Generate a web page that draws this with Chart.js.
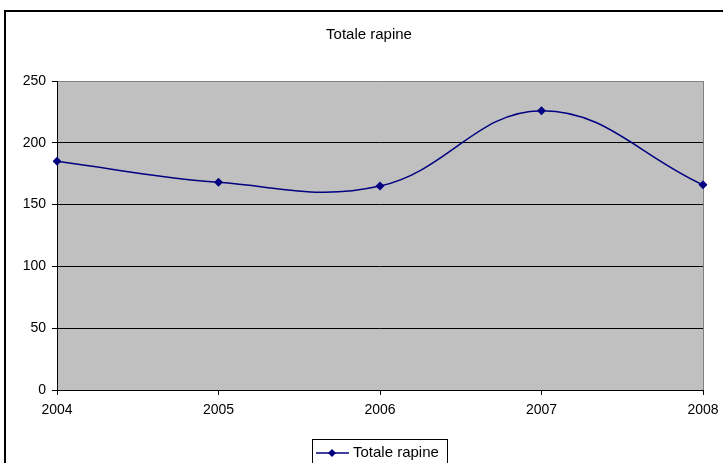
<!DOCTYPE html>
<html lang="it">
<head>
    <meta charset="UTF-8">
    <title>Totale rapine</title>
    <style>
        html, body { margin: 0; padding: 0; background: #fff; }
        #wrap { width: 723px; height: 463px; }
    </style>
    <script src="https://cdn.jsdelivr.net/npm/chart.js@4/dist/chart.umd.min.js"></script>
</head>
<body>
    <div id="wrap"><canvas id="chart" width="723" height="463"></canvas></div>

    <script>
        // dati
        const anni = ['2004', '2005', '2006', '2007', '2008'];
        const rapine = [185, 168, 165, 226, 166];
        const titolo = 'Totale rapine';
        const FONT = '"Liberation Sans", Arial, sans-serif';
        const NAVY = '#000080';

        function diamond(ctx, x, y, r) {
            ctx.beginPath();
            ctx.moveTo(x, y - r);
            ctx.lineTo(x + r, y);
            ctx.lineTo(x, y + r);
            ctx.lineTo(x - r, y);
            ctx.closePath();
            ctx.fill();
        }

        // sfondo grigio, cornice, titolo e legenda stile Excel
        const excelStyle = {
            id: 'excelStyle',
            beforeDraw(chart) {
                const { ctx, chartArea: a } = chart;
                ctx.save();
                ctx.fillStyle = '#fff';
                ctx.fillRect(0, 0, chart.width, chart.height);
                ctx.fillStyle = '#C0C0C0';
                ctx.fillRect(a.left, a.top, a.right - a.left, a.bottom - a.top);
                // bordo esterno
                ctx.strokeStyle = '#000';
                ctx.lineWidth = 2;
                ctx.strokeRect(5, 11, 740, 480);
                ctx.restore();
            },
            beforeDatasetsDraw(chart) {
                const { ctx, chartArea: a } = chart;
                ctx.save();
                ctx.strokeStyle = '#808080';
                ctx.lineWidth = 1;
                ctx.beginPath();
                ctx.moveTo(a.right + 0.5, a.top);
                ctx.lineTo(a.right + 0.5, a.bottom);
                ctx.stroke();
                ctx.restore();
            },
            afterDraw(chart) {
                const { ctx } = chart;
                ctx.save();
                ctx.fillStyle = '#000';
                ctx.font = '15px ' + FONT;
                ctx.textAlign = 'center';
                ctx.textBaseline = 'middle';
                ctx.fillText(titolo, 369, 35);

                // legenda
                ctx.strokeStyle = '#000';
                ctx.lineWidth = 1;
                ctx.strokeRect(312.5, 439.5, 135, 30);
                ctx.strokeStyle = NAVY;
                ctx.lineWidth = 1.5;
                ctx.beginPath();
                ctx.moveTo(316, 453);
                ctx.lineTo(349, 453);
                ctx.stroke();
                ctx.fillStyle = NAVY;
                diamond(ctx, 332, 453, 4);
                ctx.fillStyle = '#000';
                ctx.textAlign = 'left';
                ctx.fillText(titolo, 353, 453);
                ctx.restore();
            }
        };

        new Chart(document.getElementById('chart'), {
            type: 'line',
            data: {
                labels: anni,
                datasets: [{
                    label: titolo,
                    data: rapine,
                    borderColor: NAVY,
                    backgroundColor: NAVY,
                    borderWidth: 1.5,
                    tension: 0.4,
                    pointStyle: 'rectRot',
                    pointRadius: 4.5,
                    pointHoverRadius: 4.5,
                    pointBorderWidth: 0,
                    fill: false
                }]
            },
            options: {
                responsive: false,
                animation: false,
                layout: { padding: { top: 81, right: 20, bottom: 43, left: 0 } },
                plugins: {
                    legend: { display: false },
                    title: { display: false },
                    tooltip: { enabled: false }
                },
                scales: {
                    x: {
                        offset: false,
                        afterFit: s => { s.height = 30; s.paddingLeft = 0; s.paddingRight = 0; },
                        grid: { drawOnChartArea: false, drawTicks: true, tickLength: 5, tickColor: '#000' },
                        border: { color: '#000', width: 1 },
                        ticks: { color: '#000', font: { family: FONT, size: 14 }, padding: 7, maxRotation: 0 }
                    },
                    y: {
                        min: 0,
                        max: 250,
                        afterFit: s => { s.width = 57; s.paddingTop = 0; s.paddingBottom = 0; },
                        grid: {
                            color: c => (c.tick && c.tick.value === 250) ? '#808080' : '#000',
                            tickColor: '#000',
                            tickLength: 5,
                            lineWidth: 1
                        },
                        border: { color: '#000', width: 1 },
                        ticks: { stepSize: 50, color: '#000', font: { family: FONT, size: 14 }, padding: 6 }
                    }
                }
            },
            plugins: [excelStyle]
        });
    </script>
</body>
</html>
